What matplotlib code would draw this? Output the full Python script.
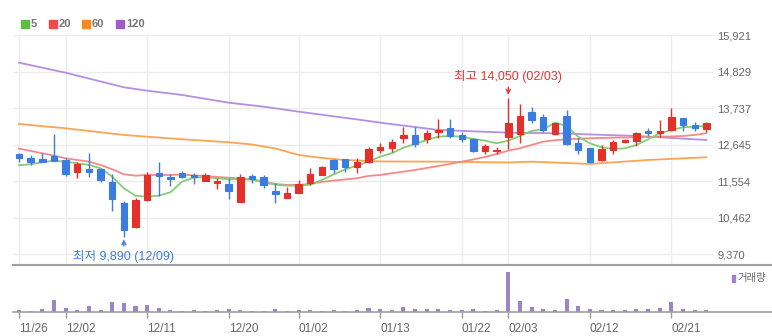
import matplotlib
matplotlib.use("Agg")
import matplotlib.pyplot as plt
from matplotlib.patches import Rectangle
from matplotlib.lines import Line2D
import numpy as np

plt.rcParams['font.family'] = ['Liberation Sans', 'Noto Sans CJK KR']

# daily OHLC, 11/26 .. 02/26
opens = [12363, 12252, 12213, 12312, 12183, 11834, 11914, 11904, 11516, 10889,
         10189, 10988, 11785, 11685, 11785, 11725, 11566, 11486, 11457, 10939,
         11695, 11685, 11266, 11058, 11207, 11486, 11735, 12183, 12213, 11964,
         12133, 12482, 12552, 12851, 12931, 12802, 13021, 13131, 12931, 12802,
         12462, 12443, 12881, 12961, 13628, 13460, 12961, 13499, 12682, 12532,
         12183, 12482, 12721, 12752, 13051, 13001, 13080, 13430, 13230, 13101]
highs = [12384, 12333, 12402, 12970, 12252, 12133, 12383, 11954, 11755, 10949,
         11048, 11834, 12114, 11765, 11855, 11804, 11784, 11655, 11655, 11765,
         11775, 11725, 11506, 11380, 11586, 11934, 12014, 12203, 12213, 12233,
         12562, 12682, 12802, 13161, 13180, 13080, 13400, 13400, 13031, 12832,
         12662, 12562, 14050, 13858, 13759, 13559, 13301, 13679, 12832, 12552,
         12632, 12781, 12821, 13031, 13150, 13379, 13729, 13430, 13310, 13330]
lows = [12115, 12034, 12114, 12154, 11705, 11655, 11685, 11535, 10667, 9890,
        10160, 10968, 11116, 11406, 11655, 11466, 11566, 11316, 11008, 10939,
        11506, 11337, 10889, 11038, 11207, 11436, 11735, 11804, 11825, 11804,
        12104, 12402, 12432, 12682, 12582, 12682, 12832, 12832, 12732, 12432,
        12353, 12353, 12503, 12682, 13281, 13011, 12931, 12632, 12353, 12104,
        12154, 12353, 12682, 12602, 12901, 12881, 13060, 13060, 13051, 13011]
closes = [12234, 12114, 12133, 12164, 11765, 12073, 11834, 11586, 11009, 10091,
          10988, 11745, 11715, 11606, 11685, 11665, 11725, 11566, 11266, 11665,
          11606, 11436, 11167, 11197, 11457, 11755, 11964, 11904, 11964, 12133,
          12512, 12582, 12712, 12931, 12662, 13001, 13071, 12901, 12811, 12462,
          12612, 12482, 13281, 13499, 13380, 13080, 13281, 12662, 12482, 12133,
          12502, 12731, 12781, 13001, 13001, 13051, 13460, 13230, 13131, 13281]
# volume, thousand shares
volume = [58, 33, 92, 308, 118, 58, 150, 58, 258, 233,
          150, 175, 118, 58, 33, 58, 33, 58, 92, 58,
          33, 33, 92, 33, 58, 58, 33, 58, 33, 58,
          118, 92, 58, 125, 92, 92, 92, 58, 58, 92,
          33, 58, 1000, 283, 125, 92, 58, 343, 150, 92,
          58, 58, 58, 92, 92, 118, 258, 92, 58, 58]

ma5 = [12025, 12055, 12114, 12163, 12133, 12085, 12034, 11935, 11684, 11337,
       11116, 11086, 11116, 11218, 11535, 11655, 11666, 11636, 11606, 11606,
       11596, 11511, 11445, 11415, 11415, 11445, 11586, 11750, 11900, 12019,
       12133, 12282, 12384, 12551, 12662, 12781, 12880, 12901, 12880, 12811,
       12761, 12683, 12760, 12901, 13051, 13101, 13299, 13200, 12880, 12682,
       12563, 12512, 12533, 12632, 12802, 12981, 13080, 13161, 13180, 13200]
ma20 = [12522, 12453, 12384, 12312, 12234, 12183, 12133, 12034, 11905, 11756,
        11714, 11735, 11735, 11735, 11750, 11720, 11705, 11675, 11654, 11630,
        11606, 11535, 11466, 11436, 11436, 11466, 11526, 11565, 11600, 11636,
        11705, 11735, 11786, 11834, 11884, 11944, 12004, 12064, 12133, 12199,
        12273, 12363, 12462, 12533, 12632, 12731, 12773, 12802, 12817, 12832,
        12841, 12850, 12856, 12862, 12871, 12880, 12886, 12901, 12931, 12982]
ma60_idx = [0, 4, 9, 11, 14, 18, 20, 22, 24, 26, 28, 31, 36, 42, 44, 49, 54, 59]
ma60 = [13260, 13131, 12931, 12880, 12802, 12713, 12647, 12527, 12333, 12243,
        12183, 12139, 12133, 12109, 12133, 12064, 12183, 12264]
ma120_idx = [0, 4, 9, 11, 14, 18, 21, 24, 30, 31, 36, 42, 46, 53, 59]
ma120 = [15093, 14794, 14357, 14256, 14127, 13897, 13777, 13628, 13350, 13299,
         13080, 13000, 12982, 12901, 12782]

tick_idx = [0, 4, 11, 18, 24, 31, 38, 42, 49, 56]
tick_labels = ["11/26", "12/02", "12/11", "12/20", "01/02", "01/13",
               "01/22", "02/03", "02/12", "02/21"]
price_ticks = [15921, 14829, 13737, 12645, 11554, 10462, 9370]

UP = '#e3302b'
DOWN = '#3b7ddf'

W, H = 772, 336
fig = plt.figure(figsize=(W / 100, H / 100), dpi=100)


def fx(px):
    return px / W


def fy(py):
    return 1 - py / H


ax = fig.add_axes([fx(13), fy(265), fx(700), (265 - 35) / H])
axv = fig.add_axes([fx(13), fy(312.3), fx(700), 45.3 / H], sharex=ax)

x = np.arange(len(closes))

# moving averages
ax.plot(ma120_idx, ma120, color='#b58fe0', lw=1.3, zorder=2)
ax.plot(ma60_idx, ma60, color='#fba552', lw=1.3, zorder=2)
ax.plot(x, ma20, color='#f28a8a', lw=1.3, zorder=2)
ax.plot(x, ma5, color='#86cc78', lw=1.3, zorder=2)

# candles
o = np.array(opens)
c = np.array(closes)
colors = [UP if cc >= oo else DOWN for oo, cc in zip(opens, closes)]
ax.vlines(x, lows, highs, colors=colors, lw=1, zorder=3)
ax.bar(x, np.abs(c - o), bottom=np.minimum(o, c), width=0.55,
       color=colors, edgecolor=colors, linewidth=0.8, zorder=4)

ax.set_xlim(-0.515, 59.57)
ax.set_ylim(9041.7, 15921)
ax.set_yticks(price_ticks)
ax.set_yticklabels([f"{v:,}" for v in price_ticks])
ax.yaxis.tick_right()
ax.tick_params(axis='y', length=0, pad=3, labelsize=8, labelcolor='#666666')
ax.tick_params(axis='x', length=0, labelbottom=False)
ax.set_xticks(tick_idx)
ax.grid(True, color='#ececec', lw=1)
ax.set_axisbelow(True)
for s in ax.spines.values():
    s.set_visible(False)

# high / low markers
ax.annotate("최고 14,050 (02/03)", xy=(42, 14050), xytext=(0, 15),
            textcoords='offset points', ha='center', va='center',
            fontsize=9, color='#ee3030',
            arrowprops=dict(arrowstyle='->', color='#ee3030', lw=1,
                            shrinkA=1, shrinkB=2, mutation_scale=7))
ax.annotate("최저 9,890 (12/09)", xy=(9, 9890), xytext=(0, -14.5),
            textcoords='offset points', ha='center', va='center',
            fontsize=9, color='#3b7ddf',
            arrowprops=dict(arrowstyle='->', color='#3b7ddf', lw=1,
                            shrinkA=1, shrinkB=2, mutation_scale=7))

# volume
axv.bar(x, volume, width=0.35, color='#9b84c9')
axv.set_ylim(0, 1132)
axv.set_yticks([])
axv.set_xticks(tick_idx)
axv.set_xticklabels(tick_labels, ha='left')
axv.tick_params(axis='x', length=4, width=1, color='#9a9a9a', pad=4,
                labelsize=8.5, labelcolor='#666666')
for s in axv.spines.values():
    s.set_visible(False)

# separators running to the right edge
fig.add_artist(Line2D([fx(13), 1], [fy(265), fy(265)], color='#a0a0a0', lw=1.5,
                      transform=fig.transFigure))
fig.add_artist(Line2D([fx(13), 1], [fy(312.3), fy(312.3)], color='#a0a0a0', lw=1.2,
                      transform=fig.transFigure))

# moving average legend
legend_items = [("5", '#5dbb46', 20.5), ("20", '#ee4a4a', 48.5),
                ("60", '#f7891f', 82), ("120", '#a05ccf', 116)]
for label, col, px in legend_items:
    fig.add_artist(Rectangle((fx(px), fy(28)), fx(8), 8 / H, color=col,
                             transform=fig.transFigure))
    fig.text(fx(px + 10), fy(24), label, fontsize=8, fontweight='bold',
             color='#777777', va='center', ha='left')

# volume legend
fig.add_artist(Rectangle((fx(731.5), fy(282)), fx(3), 7 / H, color='#9b84c9',
                         transform=fig.transFigure))
fig.text(fx(737), fy(278.5), "거래량", fontsize=7.5, color='#666666',
         va='center', ha='left')

fig.savefig("out.png", dpi=100)
